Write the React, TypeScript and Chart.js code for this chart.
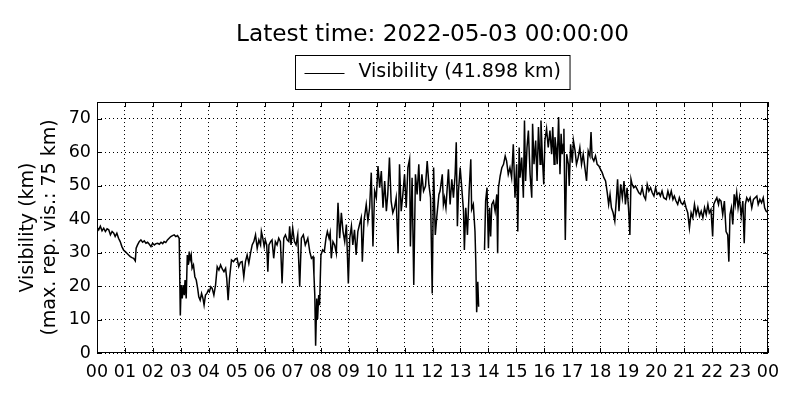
import React, { useEffect, useRef } from "react";
import { Chart, registerables } from "chart.js";

Chart.register(...registerables);

const TITLE = "Latest time: 2022-05-03 00:00:00";
const SERIES_LABEL = "Visibility";
const LATEST_VALUE = 41.898;
const Y_LABEL = ["Visibility (km)", "(max. rep. vis.: 75 km)"];
const X_TICK_LABELS = [
  "00", "01", "02", "03", "04", "05", "06", "07", "08", "09", "10", "11", "12",
  "13", "14", "15", "16", "17", "18", "19", "20", "21", "22", "23", "00",
];
const Y_TICKS = [0, 10, 20, 30, 40, 50, 60, 70];
const Y_MAX = 75;

// hours since 00:00
const HOURS = [
  0.0, 0.06, 0.12, 0.18, 0.24, 0.3, 0.36, 0.42, 0.48, 0.54, 0.6, 0.65, 0.71, 0.77, 0.83, 0.89, 0.95,
  1.01, 1.07, 1.13, 1.19, 1.25, 1.31, 1.37, 1.4, 1.45, 1.51, 1.57, 1.63, 1.69, 1.75, 1.81, 1.87, 1.93, 1.99,
  2.05, 2.11, 2.17, 2.23, 2.29, 2.35, 2.4, 2.46, 2.52, 2.58, 2.64, 2.7, 2.76, 2.82, 2.88, 2.94, 2.98,
  3.01, 3.05, 3.08, 3.12, 3.15, 3.19, 3.23, 3.26, 3.3, 3.33, 3.37, 3.4, 3.45, 3.5, 3.55, 3.6, 3.64, 3.69,
  3.74, 3.79, 3.83, 3.88, 3.93, 3.98,
  4.02, 4.07, 4.12, 4.18, 4.24, 4.3, 4.36, 4.42, 4.48, 4.54, 4.6, 4.64, 4.69, 4.74, 4.81, 4.88, 4.95,
  5.01, 5.07, 5.13, 5.19, 5.25, 5.31, 5.37, 5.43, 5.49, 5.55, 5.61, 5.67, 5.73, 5.79, 5.85, 5.88, 5.93, 5.98,
  6.02, 6.07, 6.11, 6.15, 6.21, 6.26, 6.32, 6.38, 6.44, 6.5, 6.56, 6.62, 6.68, 6.74, 6.8, 6.86, 6.89, 6.94,
  7.0, 7.06, 7.12, 7.18, 7.25, 7.31, 7.38, 7.45, 7.54, 7.61, 7.67, 7.73, 7.76, 7.79, 7.82, 7.86, 7.89, 7.93, 7.96,
  8.01, 8.07, 8.13, 8.19, 8.24, 8.3, 8.34, 8.38, 8.44, 8.5, 8.56, 8.62, 8.68, 8.74, 8.8, 8.86, 8.92, 8.99,
  9.04, 9.1, 9.15, 9.21, 9.27, 9.33, 9.39, 9.45, 9.49, 9.55, 9.63, 9.69, 9.75, 9.81, 9.87, 9.93, 9.99,
  10.05, 10.11, 10.17, 10.23, 10.29, 10.35, 10.4, 10.46, 10.52, 10.58, 10.64, 10.7, 10.77, 10.82, 10.88, 10.94,
  11.0, 11.06, 11.12, 11.18, 11.21, 11.27, 11.33, 11.39, 11.45, 11.51, 11.56, 11.62, 11.68, 11.75, 11.81, 11.87, 11.93, 11.99,
  12.04, 12.1, 12.15, 12.23, 12.27, 12.35, 12.39, 12.43, 12.48, 12.57, 12.63, 12.69, 12.75, 12.81, 12.85, 12.89, 12.93, 12.99,
  13.05, 13.11, 13.14, 13.19, 13.25, 13.31, 13.37, 13.4, 13.46, 13.52, 13.55, 13.58, 13.62, 13.65, 13.75, 13.86, 13.9, 13.95,
  14.0, 14.04, 14.08, 14.12, 14.18, 14.24, 14.3, 14.33, 14.36, 14.42, 14.48, 14.54, 14.6, 14.65, 14.71, 14.77, 14.83, 14.89, 14.95,
  15.01, 15.05, 15.1, 15.13, 15.19, 15.25, 15.29, 15.33, 15.38, 15.43, 15.49, 15.55, 15.58, 15.63, 15.69, 15.74, 15.79, 15.85, 15.88, 15.93, 15.98,
  16.02, 16.08, 16.14, 16.2, 16.26, 16.3, 16.35, 16.38, 16.42, 16.46, 16.51, 16.56, 16.6, 16.64, 16.68, 16.7, 16.75, 16.8, 16.86, 16.89, 16.94,
  17.0, 17.04, 17.1, 17.15, 17.21, 17.27, 17.33, 17.39, 17.45, 17.51, 17.57, 17.63, 17.67, 17.71, 17.77, 17.83, 17.89, 17.95,
  18.01, 18.07, 18.13, 18.19, 18.25, 18.3, 18.35, 18.4, 18.46, 18.52, 18.58, 18.62, 18.67, 18.73, 18.79, 18.85, 18.9, 18.96,
  19.01, 19.06, 19.1, 19.14, 19.2, 19.26, 19.32, 19.38, 19.44, 19.5, 19.56, 19.62, 19.68, 19.74, 19.8, 19.86, 19.92, 19.98,
  20.04, 20.1, 20.15, 20.21, 20.27, 20.36, 20.42, 20.48, 20.54, 20.6, 20.65, 20.71, 20.77, 20.83, 20.89, 20.95,
  21.01, 21.07, 21.13, 21.19, 21.25, 21.31, 21.37, 21.43, 21.49, 21.55, 21.61, 21.67, 21.73, 21.79, 21.85, 21.9, 21.96,
  22.02, 22.06, 22.11, 22.17, 22.23, 22.26, 22.32, 22.38, 22.44, 22.5, 22.56, 22.6, 22.64, 22.69, 22.74, 22.79, 22.83, 22.88, 22.93, 22.98,
  23.04, 23.1, 23.15, 23.19, 23.24, 23.3, 23.36, 23.42, 23.48, 23.54, 23.6, 23.65, 23.71, 23.77, 23.83, 23.88, 23.93, 24.0,
];

// visibility in km (null = missing report)
const VISIBILITY = [
  37.6, 36.8, 37.9, 36.5, 37.3, 36.3, 37.1, 36.8, 35.3, 36.3, 35.8, 34.8, 35.8, 34.3, 33.3, 31.8, 30.8,
  30.3, 29.8, 29.3, 28.8, 28.5, 28.3, 27.5, 31.3, 32.3, 33.3, 33.8, 33.1, 33.5, 32.8, 33.1, 32.5, 31.8, 32.8,
  32.3, 32.7, 32.8, 32.5, 33.1, 32.7, 33.3, 33.0, 33.8, 34.3, 34.8, 35.1, 35.3, 34.8, 35.1, 34.3, 11.2,
  20.3, 16.3, 20.3, 17.3, 21.8, 16.3, 29.3, 26.3, 30.3, 27.8, 29.3, 25.3, 26.3, 22.8, 21.8, 19.3, 16.8, 15.8,
  17.8, 16.3, 14.3, 17.3, 17.8, 18.8,
  18.3, 19.8, 19.3, 17.3, 20.3, 25.8, 24.8, 26.3, 25.1, 24.3, 25.3, 22.3, 15.8, 22.3, 27.8, 27.3, 28.1,
  28.3, 25.8, 27.1, 27.3, 22.8, 27.3, 29.3, 26.8, 29.8, 32.3, 33.3, 35.3, 31.3, 33.8, 32.3, 36.3, 34.3, 31.8,
  33.8, 32.3, 24.3, 32.3, 33.3, 33.8, 28.3, 33.3, 32.3, 34.3, 33.3, 20.8, 34.3, 35.3, 33.8, 33.3, 37.9, 32.3,
  37.3, 33.3, 32.3, 35.3, 19.8, 34.3, 35.3, 32.3, 34.3, 30.3, 28.3, 28.8, 23.3, 17.3, 2.2, 16.3, 10.2, 17.3, 14.3,
  29.3, 30.8, 30.3, 34.3, 36.3, 34.3, 35.9, 28.3, 33.3, 32.3, 29.8, 44.9, 34.3, 41.9, 36.3, 33.3, 38.4, 20.8,
  34.3, 37.9, 32.3, 36.8, 29.3, 36.3, 38.4, 40.4, 27.3, 39.4, 44.4, 39.4, 43.4, 53.9, 31.8, 48.4, 46.4,
  55.9, 49.4, 54.4, 43.4, 51.4, 42.4, 47.4, 58.4, 45.4, 41.9, 43.4, 46.4, 29.8, 56.4, 42.4, 47.4,
  53.4, 43.4, 55.4, 57.9, 31.8, 52.4, 20.3, 53.4, 47.4, 56.4, 45.4, 53.4, 48.4, 49.9, 57.4, 50.4, 46.4, 17.8,
  55.4, 35.3, 40.4, 47.4, 48.4, 53.4, 44.4, 46.4, 43.4, 54.9, 44.4, 51.9, 46.4, 53.4, 63.0, 37.9, 48.4, 55.4,
  48.9, 42.4, 30.8, 43.4, 35.3, 48.4, 57.9, 42.9, 44.4, 36.3, 26.8, 12.2, 21.3, 13.8, null, 30.8, 45.4, 49.4,
  31.3, 43.4, 34.8, 44.4, 45.4, 42.4, 47.4, 29.8, 49.4, 52.9, 55.4, 56.4, 58.9, 57.4, 53.4, 55.4, 52.4, 62.4, 46.4,
  56.4, 36.3, 61.4, 52.4, 58.4, 46.4, 69.5, 51.4, 61.4, 66.5, 53.4, 46.4, 68.5, 56.4, 63.5, 51.4, 67.5, 56.4, 69.5, 58.4, 50.4,
  63.5, 67.0, 61.4, 66.5, 59.4, 67.5, 56.4, 64.5, 61.4, 56.4, 70.5, 53.4, 65.5, 59.4, 62.4, 67.0, 33.8, 59.4, 56.4, 49.9, 62.4,
  56.9, 63.5, 60.4, 56.4, 58.4, 61.4, 56.4, 59.4, 55.4, 51.4, 60.4, 58.9, 66.0, 58.4, 57.4, 58.9, 56.4, 55.9,
  54.9, 53.9, 52.4, 51.4, 47.9, 44.4, 47.4, 43.4, 41.9, 39.4, 46.4, 51.9, 42.4, 50.4, 46.4, 51.4, 44.4, 49.4,
  43.4, 35.3, 51.9, 50.4, 49.4, 49.9, 48.9, 47.9, 47.4, 49.4, 46.9, 45.9, 50.4, 48.4, 49.4, 47.9, 46.9, 49.4,
  47.4, 47.9, 46.9, 48.4, 46.4, 45.9, 48.4, 46.4, 48.4, 45.9, 46.9, 45.4, 44.4, 46.4, 44.9, 44.4,
  45.4, 43.4, 41.9, 37.3, 41.9, 40.4, 44.4, 41.4, 43.4, 40.9, 42.4, 40.4, 43.4, 41.4, 44.4, 41.9, 42.9,
  34.8, 44.4, 45.4, 46.4, 44.4, 45.9, 45.4, 41.4, 45.4, 36.3, 35.3, 27.3, 41.4, 43.4, 38.4, 47.4, 44.4, 47.9, 43.4, 46.4,
  40.9, 45.4, 32.8, 44.4, 46.4, 45.4, 46.4, 43.4, 45.9, 46.4, 46.9, 44.4, 45.9, 44.9, 46.4, 43.4, 42.4, 41.898,
];

const FONT = "'DejaVu Sans', sans-serif";

const framePlugin = {
  id: "mplFrame",
  afterDraw(chart: any) {
    const { ctx, chartArea: ca, scales } = chart;
    const xs = scales.x;
    const ys = scales.y;
    const L = 5;
    ctx.save();
    ctx.strokeStyle = "#000";
    ctx.lineWidth = 1;
    ctx.setLineDash([]);
    ctx.beginPath();
    X_TICK_LABELS.forEach((_, i) => {
      const px = Math.round(xs.getPixelForValue(i)) + 0.5;
      ctx.moveTo(px, ca.bottom);
      ctx.lineTo(px, ca.bottom - L);
      ctx.moveTo(px, ca.top);
      ctx.lineTo(px, ca.top + L);
    });
    Y_TICKS.forEach((v) => {
      const py = Math.round(ys.getPixelForValue(v)) + 0.5;
      ctx.moveTo(ca.left, py);
      ctx.lineTo(ca.left + L, py);
      ctx.moveTo(ca.right, py);
      ctx.lineTo(ca.right - L, py);
    });
    ctx.stroke();
    ctx.strokeRect(Math.round(ca.left) + 0.5, Math.round(ca.top) + 0.5, Math.round(ca.width) - 1, Math.round(ca.height) - 1);

    // legend box
    const text = `${SERIES_LABEL} (${LATEST_VALUE.toFixed(3)} km)`;
    ctx.font = `19px ${FONT}`;
    const tw = ctx.measureText(text).width;
    const padL = 9, lineW = 40, gap = 14, padR = 9;
    const boxW = padL + lineW + gap + tw + padR;
    const cx = (ca.left + ca.right) / 2;
    const bx = Math.round(cx - boxW / 2) + 0.5;
    const by = 55.5;
    const bh = 34;
    ctx.fillStyle = "#fff";
    ctx.fillRect(bx, by, boxW, bh);
    ctx.strokeRect(bx, by, boxW, bh);
    const my = by + bh / 2;
    ctx.beginPath();
    ctx.moveTo(bx + padL, Math.round(my) + 0.5);
    ctx.lineTo(bx + padL + lineW, Math.round(my) + 0.5);
    ctx.stroke();
    ctx.fillStyle = "#000";
    ctx.textAlign = "left";
    ctx.textBaseline = "middle";
    ctx.fillText(text, bx + padL + lineW + gap, my);
    ctx.restore();
  },
};

export default function App() {
  const canvasRef = useRef<HTMLCanvasElement | null>(null);

  useEffect(() => {
    if (!canvasRef.current) return;
    const points = HOURS.map((h, i) => ({ x: h, y: VISIBILITY[i] }));
    const chart = new Chart(canvasRef.current, {
      type: "line",
      data: {
        datasets: [
          {
            label: SERIES_LABEL,
            data: points as any,
            borderColor: "#000",
            backgroundColor: "#000",
            borderWidth: 1.5,
            pointRadius: 0,
            tension: 0,
            spanGaps: false,
          },
        ],
      },
      options: {
        animation: false,
        responsive: true,
        maintainAspectRatio: false,
        devicePixelRatio: 1,
        layout: { padding: { left: 0, right: 32, top: 0, bottom: 0 } },
        plugins: {
          legend: { display: false },
          tooltip: { enabled: false },
          title: {
            display: true,
            text: TITLE,
            color: "#000",
            fullSize: false,
            font: { family: FONT, size: 23.2, weight: "normal", lineHeight: 1.2 },
            padding: { top: 21, bottom: 53.2 },
          },
        },
        scales: {
          x: {
            type: "linear",
            min: 0,
            max: 24,
            afterBuildTicks: (scale: any) => {
              scale.ticks = X_TICK_LABELS.map((_, i) => ({ value: i }));
            },
            afterFit: (scale: any) => {
              scale.height = 47;
            },
            ticks: {
              autoSkip: false,
              maxRotation: 0,
              minRotation: 0,
              padding: 9,
              color: "#000",
              font: { family: FONT, size: 17.5, lineHeight: 1.2 },
              callback: (v: any) => X_TICK_LABELS[Math.round(Number(v))],
            },
            grid: { color: "#000", lineWidth: 1, drawTicks: false },
            border: { display: false, dash: [1, 3] },
          },
          y: {
            type: "linear",
            min: 0,
            max: Y_MAX,
            afterBuildTicks: (scale: any) => {
              scale.ticks = Y_TICKS.map((v) => ({ value: v }));
            },
            afterFit: (scale: any) => {
              scale.width = 97;
            },
            ticks: {
              padding: 6,
              color: "#000",
              font: { family: FONT, size: 17.5, lineHeight: 1.2 },
              callback: (v: any) => String(v),
            },
            grid: { color: "#000", lineWidth: 1, drawTicks: false },
            border: { display: false, dash: [1, 3] },
            title: {
              display: true,
              text: Y_LABEL,
              color: "#000",
              font: { family: FONT, size: 19, lineHeight: 1.15 },
              padding: { top: 17, bottom: 0 },
            },
          },
        },
      },
      plugins: [framePlugin],
    });
    return () => chart.destroy();
  }, []);

  return (
    <div style={{ position: "absolute", left: 0, top: 0, width: 800, height: 400, background: "#fff" }}>
      <canvas ref={canvasRef} />
    </div>
  );
}
